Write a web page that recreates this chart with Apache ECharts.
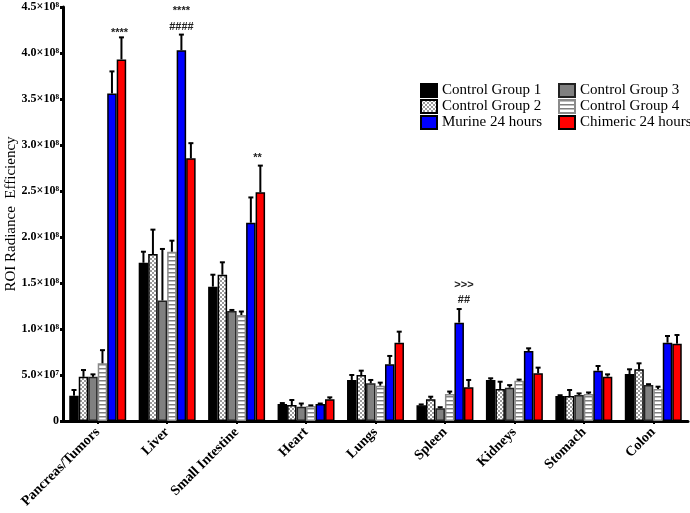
<!DOCTYPE html>
<html><head><meta charset="utf-8">
<script src="https://cdn.jsdelivr.net/npm/echarts@6/dist/echarts.min.js"></script>
<style>html,body{margin:0;padding:0;background:#fff}#c{width:690px;height:513px}</style>
</head><body><div id="c"></div>
<script>
const categories = ['Pancreas/Tumors','Liver','Small Intestine','Heart','Lungs','Spleen','Kidneys','Stomach','Colon'];
const seriesNames = ['Control Group 1','Control Group 2','Control Group 3','Control Group 4','Murine 24 hours','Chimeric 24 hours'];
const cg1 = [2.75e7, 1.72e8, 1.46e8, 1.85e7, 4.46e7, 1.7e7, 4.46e7, 2.72e7, 5.11e7];
const cg1Err = [6.2e6, 1.2e7, 1.3e7, 1.0e6, 5.4e6, 1.0e6, 1.8e6, 8e5, 5.1e6];
const cg2 = [4.8e7, 1.815e8, 1.59e8, 1.74e7, 5.0e7, 2.36e7, 3.48e7, 2.72e7, 5.62e7];
const cg2Err = [7.4e6, 2.65e7, 1.35e7, 5.4e6, 4.7e6, 2.8e6, 7.9e6, 6.5e6, 6.5e6];
const cg3 = [4.8e7, 1.31e8, 1.196e8, 1.56e7, 4.1e7, 1.38e7, 3.62e7, 2.83e7, 3.91e7];
const cg3Err = [2.7e6, 5.6e7, 1.1e6, 3.4e6, 3.6e6, 1.2e6, 2.8e6, 1.7e6, 9e5];
const cg4 = [6.27e7, 1.84e8, 1.152e8, 1.63e7, 3.84e7, 2.93e7, 4.38e7, 2.93e7, 3.48e7];
const cg4Err = [1.43e7, 1.2e7, 3.8e6, 7e5, 3.3e6, 2.7e6, 1.2e6, 1.7e6, 2.5e6];
const murine = [3.56e8, 4.03e8, 2.155e8, 1.85e7, 6.16e7, 1.069e8, 7.61e7, 5.47e7, 8.51e7];
const murineErr = [2.4e7, 1.7e7, 2.75e7, 5e5, 9.1e6, 1.48e7, 2.9e6, 5.1e6, 7.3e6];
const chimeric = [3.93e8, 2.855e8, 2.486e8, 2.36e7, 8.51e7, 3.66e7, 5.18e7, 4.82e7, 8.4e7];
const chimericErr = [2.4e7, 1.65e7, 2.9e7, 2.1e6, 1.2e7, 8e6, 6.2e6, 2.5e6, 9.5e6];
const yTicks = [0, 5e7, 1e8, 1.5e8, 2e8, 2.5e8, 3e8, 3.5e8, 4e8, 4.5e8];
// annotations: category index, y value, bar position (0..5), text
const annCat = [0, 1, 1, 2, 5, 5];
const annY = [4.22e8, 4.46e8, 4.28e8, 2.86e8, 1.48e8, 1.315e8];
const annPos = [4.8, 4.0, 4.0, 4.7, 4.5, 4.5];
const annText = ['****', '****', '####', '**', '>>>', '##'];

const values = [cg1, cg2, cg3, cg4, murine, chimeric];
const errs = [cg1Err, cg2Err, cg3Err, cg4Err, murineErr, chimericErr];
const GAP = 0.18;

function checkerPattern() {
  const c = document.createElement('canvas'); c.width = 4; c.height = 4;
  const g = c.getContext('2d');
  g.fillStyle = '#ffffff'; g.fillRect(0,0,4,4);
  g.fillStyle = '#9a9a9a'; g.fillRect(0,0,2,2); g.fillRect(2,2,2,2);
  return {image: c, repeat: 'repeat'};
}
function stripePattern() {
  const c = document.createElement('canvas'); c.width = 4; c.height = 4;
  const g = c.getContext('2d');
  g.fillStyle = '#ffffff'; g.fillRect(0,0,4,4);
  g.fillStyle = '#808080'; g.fillRect(0,0,4,1.5);
  return {image: c, repeat: 'repeat'};
}
const fills = ['#000000', checkerPattern(), '#808080', stripePattern(), '#0000ff', '#ff0000'];
const borders = ['#000000', '#000000', '#222222', '#8a8a8a', '#000000', '#000000'];

const series = [];
values.forEach((arr, k) => {
  series.push({
    name: seriesNames[k], type: 'bar', data: arr,
    barGap: '0%', barCategoryGap: (GAP*100) + '%',
    itemStyle: {color: fills[k], borderColor: borders[k], borderWidth: 1.5},
    z: 2
  });
});
values.forEach((arr, k) => {
  series.push({
    type: 'custom', silent: true, z: 3,
    data: arr.map((v, i) => [i, v, errs[k][i]]),
    encode: {x: 0, y: 1},
    renderItem: function (params, api) {
      const i = api.value(0), v = api.value(1), e = api.value(2);
      const bw = api.size([1, 0])[0] * (1 - GAP) / 6;
      const x = api.coord([i, 0])[0] + (k - 2.5) * bw;
      const y1 = api.coord([i, v])[1];
      const y2 = api.coord([i, v + e])[1];
      return {type: 'group', children: [
        {type: 'line', shape: {x1: x, y1: y1, x2: x, y2: y2}, style: {stroke: '#000', lineWidth: 2}},
        {type: 'line', shape: {x1: x - 2.5, y1: y2, x2: x + 2.5, y2: y2}, style: {stroke: '#000', lineWidth: 2}}
      ]};
    }
  });
});
series.push({
  type: 'custom', silent: true, z: 4,
  data: annCat.map((c, j) => [c, annY[j], annPos[j], j]),
  encode: {x: 0, y: 1},
  renderItem: function (params, api) {
    const i = api.value(0), y = api.value(1), p = api.value(2), j = api.value(3);
    const bw = api.size([1, 0])[0] * (1 - GAP) / 6;
    const pt = api.coord([i, y]);
    return {type: 'text', x: pt[0] + (p - 2.5) * bw, y: pt[1],
      style: {text: annText[j], fill: '#222', font: 'bold 11px "Liberation Sans", Arial, sans-serif',
        align: 'center', verticalAlign: 'middle'}};
  }
});

function fmtY(v) {
  if (v === 0) return '0';
  if (v < 1e8) return (v / 1e7).toFixed(1) + '×10⁷';
  return (v / 1e8).toFixed(1) + '×10⁸';
}

const legendText = {fontFamily: '"Liberation Serif", "Times New Roman", serif', fontSize: 15, color: '#000', lineHeight: 15};
const chart = echarts.init(document.getElementById('c'), null, {renderer: 'canvas'});
chart.setOption({
  animation: false,
  backgroundColor: '#ffffff',
  grid: {left: 63, right: 2, top: 7, bottom: 92, containLabel: false, outerBoundsMode: 'none'},
  legend: [
    {data: seriesNames.slice(0, 2).concat([seriesNames[4]]), orient: 'vertical', left: 420, top: 83,
     icon: 'rect', itemWidth: 16, itemHeight: 13, itemGap: 1, textStyle: legendText, selectedMode: false, padding: 0},
    {data: [seriesNames[2], seriesNames[3], seriesNames[5]], orient: 'vertical', left: 558, top: 83,
     icon: 'rect', itemWidth: 16, itemHeight: 13, itemGap: 1, textStyle: legendText, selectedMode: false, padding: 0}
  ],
  xAxis: {
    type: 'category', data: categories,
    axisLine: {lineStyle: {color: '#000', width: 3}},
    axisTick: {show: true, alignWithLabel: true, length: 3, lineStyle: {color: '#000', width: 2}},
    axisLabel: {rotate: 45, interval: 0, margin: 9, color: '#000', fontWeight: 'bold', fontSize: 14,
      fontFamily: '"Liberation Serif", "Times New Roman", serif'}
  },
  yAxis: {
    type: 'value', min: 0, max: 4.5e8, interval: 5e7,
    name: 'ROI Radiance  Efficiency', nameLocation: 'middle', nameGap: 44, nameMoveOverlap: false,
    nameTextStyle: {fontFamily: '"Liberation Serif", "Times New Roman", serif', fontSize: 15, color: '#000'},
    axisLine: {show: true, lineStyle: {color: '#000', width: 3}},
    axisTick: {show: true, length: 3, lineStyle: {color: '#000', width: 3}},
    splitLine: {show: false},
    axisLabel: {formatter: fmtY, color: '#000', fontWeight: 'bold', fontSize: 12, margin: 4,
      fontFamily: '"Liberation Serif", "Times New Roman", serif'}
  },
  series: series
});
</script></body></html>
